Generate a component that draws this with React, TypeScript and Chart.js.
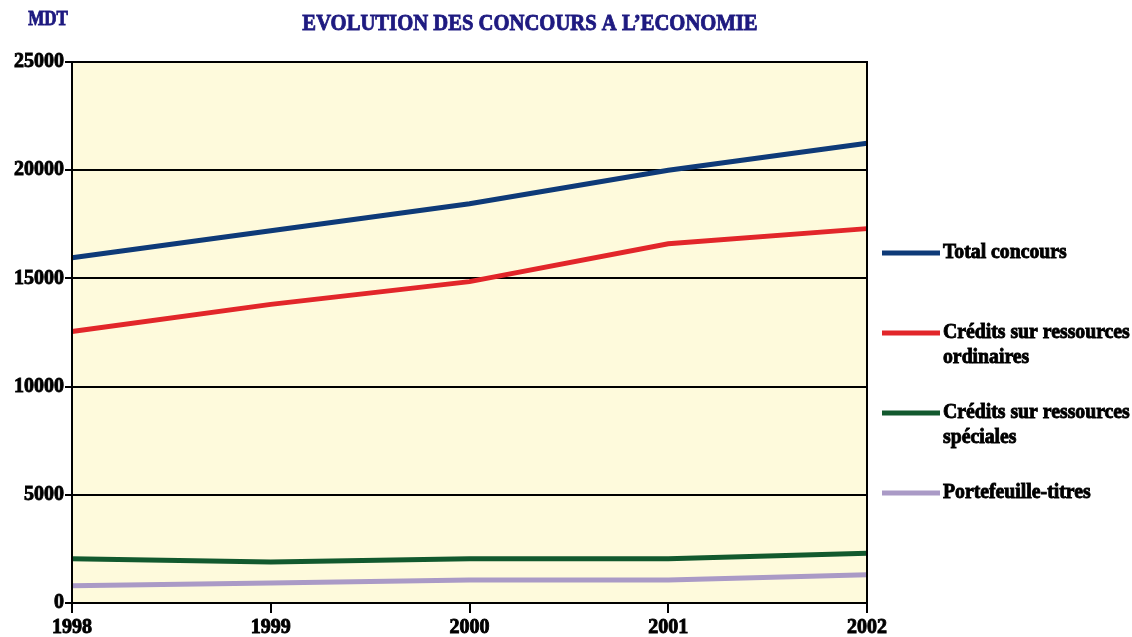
import React, { useEffect, useRef } from "react";
import { Chart, registerables } from "chart.js";

Chart.register(...registerables);

const years = ["1998", "1999", "2000", "2001", "2002"];
const totalConcours = [15950, 17200, 18450, 20000, 21250];
const creditsOrdinaires = [12550, 13800, 14850, 16600, 17300];
const creditsSpeciales = [2050, 1900, 2050, 2050, 2300];
const portefeuilleTitres = [800, 920, 1060, 1060, 1300];

const seriesNames = [
  ["Total concours"],
  ["Crédits sur ressources", "ordinaires"],
  ["Crédits sur ressources", "spéciales"],
  ["Portefeuille-titres"],
];
const seriesColors = ["#0e3a78", "#e2262a", "#12592e", "#aa9ac6"];
const yTicks = [0, 5000, 10000, 15000, 20000, 25000];

const titleText = "EVOLUTION DES CONCOURS A L\u2019ECONOMIE";
const unitText = "MDT";

const FONT = '"Liberation Serif", "Times New Roman", serif';

export default function App() {
  const ref = useRef<HTMLCanvasElement | null>(null);

  useEffect(() => {
    document.body.style.margin = "0";
    const canvas = ref.current!;
    const drawText = (ctx: any, text: string, x: number, y: number, size: number, sx: number, align: string, color: string) => {
      ctx.save();
      ctx.font = `bold ${size}px ${FONT}`;
      ctx.fillStyle = color;
      ctx.strokeStyle = color;
      ctx.lineWidth = 0.9;
      ctx.textAlign = align;
      ctx.textBaseline = "middle";
      ctx.translate(x, y);
      ctx.scale(sx, 1);
      ctx.fillText(text, 0, 0);
      ctx.strokeText(text, 0, 0);
      ctx.restore();
    };
    const decor = {
      id: "decor",
      beforeDraw(chart: any) {
        const { ctx, chartArea: a } = chart;
        ctx.save();
        ctx.fillStyle = "#fefadc";
        ctx.fillRect(a.left, a.top, a.right - a.left, a.bottom - a.top);
        ctx.restore();
      },
      afterDraw(chart: any) {
        const { ctx, chartArea: a } = chart;
        ctx.save();
        ctx.strokeStyle = "#000";
        ctx.lineWidth = 2;
        ctx.strokeRect(a.left, a.top, a.right - a.left, a.bottom - a.top);
        ctx.restore();

        drawText(ctx, titleText, 530, 24, 24, 0.86, "center", "#1e1a80");
        drawText(ctx, unitText, 48, 20, 20, 0.85, "center", "#1e1a80");

        const ys = [253, 333, 413, 493];
        ys.forEach((y, i) => {
          ctx.save();
          ctx.strokeStyle = seriesColors[i];
          ctx.lineWidth = 5;
          ctx.beginPath();
          ctx.moveTo(882, y);
          ctx.lineTo(940, y);
          ctx.stroke();
          ctx.restore();
          seriesNames[i].forEach((line, j) => {
            drawText(ctx, line, 943, y + j * 25, 21, 0.94, "left", "#000");
          });
        });
      },
    };

    const data = [totalConcours, creditsOrdinaires, creditsSpeciales, portefeuilleTitres];
    const tickFont = { family: FONT, size: 20, weight: "bold" };
    const chart = new Chart(canvas, {
      type: "line",
      data: {
        labels: years,
        datasets: data.map((d, i) => ({
          label: seriesNames[i].join(" "),
          data: d,
          borderColor: seriesColors[i],
          backgroundColor: seriesColors[i],
          borderWidth: 5,
          pointRadius: 0,
          tension: 0,
          fill: false,
        })),
      },
      options: {
        animation: false,
        responsive: false,
        layout: { padding: { top: 62, right: 265, left: 0, bottom: 0 } },
        plugins: {
          legend: { display: false },
          title: { display: false },
          tooltip: { enabled: false },
        },
        scales: {
          x: {
            offset: false,
            grid: {
              drawOnChartArea: false,
              color: "#000",
              lineWidth: 2,
              tickLength: 10,
            },
            border: { color: "#000", width: 2 },
            ticks: {
              color: "#000",
              font: tickFont,
              textStrokeColor: "#000",
              textStrokeWidth: 0.9,
              padding: 3,
              maxRotation: 0,
            },
            afterFit(s: any) {
              s.height = 637 - 603;
            },
          },
          y: {
            min: 0,
            max: 25000,
            afterBuildTicks(s: any) {
              s.ticks = yTicks.map((v) => ({ value: v }));
            },
            grid: {
              color: "#000",
              lineWidth: 2,
              tickLength: 7,
            },
            border: { color: "#000", width: 2 },
            ticks: {
              color: "#000",
              font: tickFont,
              textStrokeColor: "#000",
              textStrokeWidth: 0.9,
              padding: 1,
              callback: (v: any) => String(v),
            },
            afterFit(s: any) {
              s.width = 72;
            },
          },
        },
      },
      plugins: [decor],
    } as any);
    return () => chart.destroy();
  }, []);

  return <canvas ref={ref} width={1132} height={637} style={{ display: "block" }} />;
}
